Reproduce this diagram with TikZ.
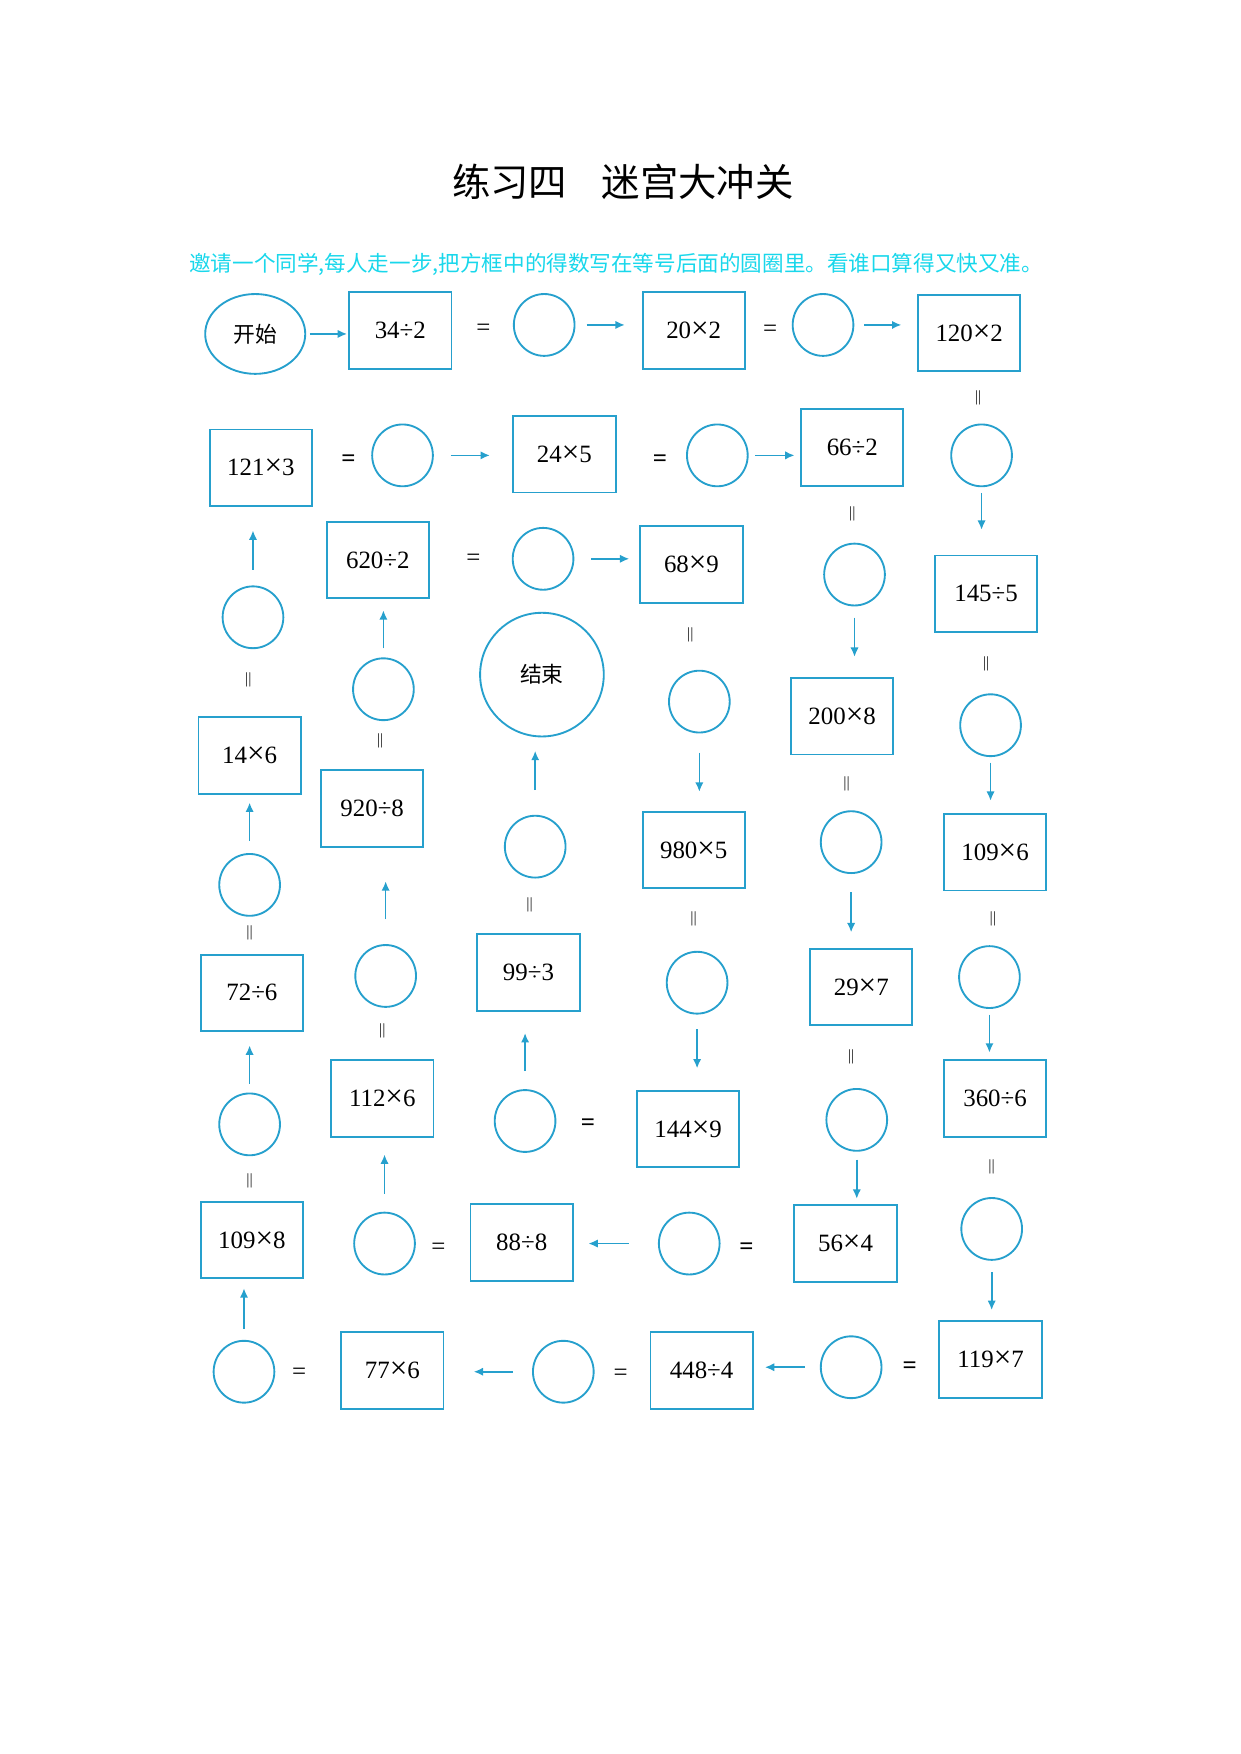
\documentclass[tikz,border=0pt]{standalone}
\usepackage{fontspec}
\setmainfont{Liberation Serif}
\newfontfamily\cjk{Noto Sans CJK SC}
\usetikzlibrary{arrows.meta,shapes.geometric}
\definecolor{mazeblue}{RGB}{38,160,205}
\definecolor{cyantext}{RGB}{25,215,235}
\def\myu{0.019039cm}
\newcommand\mymul{{\fontsize{15}{15}\selectfont ×}}
\tikzset{
  box/.style={draw=mazeblue, line width=0.9pt, rectangle, minimum width=91*\myu, minimum height=68*\myu, inner sep=0pt, font=\fontsize{12}{14}\selectfont},
  ring/.style={draw=mazeblue, line width=0.9pt, ellipse, minimum width=54*\myu, minimum height=55*\myu, inner sep=0pt},
  startnode/.style={draw=mazeblue, line width=0.9pt, ellipse, minimum width=89*\myu, minimum height=71*\myu, inner sep=0pt, font=\cjk\fontsize{10.5}{12}\selectfont},
  endnode/.style={draw=mazeblue, line width=0.9pt, circle, minimum size=110*\myu, inner sep=0pt, font=\cjk\fontsize{10.5}{12}\selectfont},
  eqthin/.style={inner sep=0pt, font=\fontsize{12}{14}\selectfont},
  eqbold/.style={inner sep=0pt, font=\bfseries\fontsize{12}{14}\selectfont},
  vq/.style={inner sep=0pt, font=\fontsize{7}{7}\selectfont},
  arr/.style={draw=mazeblue, line width=0.8pt, -{Latex[length=4.5pt,width=4pt]}},
  sh/.style 2 args={shorten <=#1*\myu, shorten >=#2*\myu}
}
\begin{document}
\begin{tikzpicture}[x=0.019039cm, y=-0.019039cm]
\useasboundingbox (0,0) rectangle (1103,1560);
% title and instruction
\node (title) at (554,162) {\cjk\fontsize{18.5}{20}\selectfont 练习四\hspace{0.9em}迷宫大冲关};
\node (instr) at (548,235) {\color{cyantext}\cjk\fontsize{10.4}{12}\selectfont 邀请一个同学,每人走一步,把方框中的得数写在等号后面的圆圈里。看谁口算得又快又准。};
% start / end
\node[startnode] (s) at (227,297) {开始};
\node[endnode] (e) at (482,600) {结束};
% boxes
\node[box] (b1) at (356,294) {34÷2};
\node[box] (b2) at (617,294) {20\mymul2};
\node[box] (b3) at (862,296) {120\mymul2};
\node[box] (b4) at (232,416) {121\mymul3};
\node[box] (b5) at (502,404) {24\mymul5};
\node[box] (b6) at (758,398) {66÷2};
\node[box] (b7) at (877,528) {145÷5};
\node[box] (b8) at (336,498) {620÷2};
\node[box] (b9) at (615,502) {68\mymul9};
\node[box] (b10) at (749,637) {200\mymul8};
\node[box] (b11) at (222,672) {14\mymul6};
\node[box] (b12) at (331,719) {920÷8};
\node[box] (b13) at (617,756) {980\mymul5};
\node[box] (b14) at (885,758) {109\mymul6};
\node[box] (b15) at (224,883) {72÷6};
\node[box] (b16) at (470,865) {99÷3};
\node[box] (b17) at (766,878) {29\mymul7};
\node[box] (b18) at (340,977) {112\mymul6};
\node[box] (b19) at (612,1004) {144\mymul9};
\node[box] (b20) at (885,977) {360÷6};
\node[box] (b21) at (224,1103) {109\mymul8};
\node[box] (b22) at (464,1105) {88÷8};
\node[box] (b23) at (752,1106) {56\mymul4};
\node[box] (b24) at (349,1219) {77\mymul6};
\node[box] (b25) at (624,1219) {448÷4};
\node[box] (b26) at (881,1209) {119\mymul7};
% circles
\node[ring] (c1) at (484,289) {};
\node[ring] (c2) at (732,289) {};
\node[ring] (c3) at (358,405) {};
\node[ring] (c4) at (638,405) {};
\node[ring] (c5) at (873,405) {};
\node[ring] (c6) at (483,497) {};
\node[ring] (c7) at (760,511) {};
\node[ring] (c8) at (225,549) {};
\node[ring] (c9) at (341,613) {};
\node[ring] (c10) at (622,624) {};
\node[ring] (c11) at (881,645) {};
\node[ring] (c12) at (757,749) {};
\node[ring] (c13) at (476,753) {};
\node[ring] (c14) at (222,787) {};
\node[ring] (c15) at (343,868) {};
\node[ring] (c16) at (620,874) {};
\node[ring] (c17) at (880,869) {};
\node[ring] (c18) at (467,997) {};
\node[ring] (c19) at (222,1000) {};
\node[ring] (c20) at (762,996) {};
\node[ring] (c21) at (882,1093) {};
\node[ring] (c22) at (342,1106) {};
\node[ring] (c23) at (613,1106) {};
\node[ring] (c24) at (757,1216) {};
\node[ring] (c25) at (501,1220) {};
\node[ring] (c26) at (217,1220) {};
% equal signs
\node[eqthin] (q1) at (430,293) {=};
\node[eqthin] (q2) at (685,294) {=};
\node[eqthin] (q3) at (421,498) {=};
\node[eqthin] (q4) at (266,1222) {=};
\node[eqthin] (q5) at (552,1223) {=};
\node[eqthin] (q6) at (390,1111) {=};
\node[eqbold] (q7) at (310,410) {=};
\node[eqbold] (q8) at (587,410) {=};
\node[eqbold] (q9) at (523,1000) {=};
\node[eqbold] (q10) at (664,1111) {=};
\node[eqbold] (q11) at (809,1216) {=};
% vertical equal signs
\node[vq] (v1) at (870,354) {$\Vert$};
\node[vq] (v2) at (758,457) {$\Vert$};
\node[vq] (v3) at (753,697) {$\Vert$};
\node[vq] (v4) at (757,940) {$\Vert$};
\node[vq] (v5) at (877,590) {$\Vert$};
\node[vq] (v6) at (883,817) {$\Vert$};
\node[vq] (v7) at (882,1038) {$\Vert$};
\node[vq] (v8) at (222,1050) {$\Vert$};
\node[vq] (v9) at (222,830) {$\Vert$};
\node[vq] (v10) at (221,605) {$\Vert$};
\node[vq] (v11) at (340,917) {$\Vert$};
\node[vq] (v12) at (338,659) {$\Vert$};
\node[vq] (v13) at (614,565) {$\Vert$};
\node[vq] (v14) at (617,817) {$\Vert$};
\node[vq] (v15) at (471,805) {$\Vert$};
% arrows right
\draw[arr, sh={3}{1}] (s.east) -- (s.east -| b1.west);
\draw[arr, sh={10}{15}] (c1.east) -- (c1.east -| b2.west);
\draw[arr, sh={9}{14}] (c2.east) -- (c2.east -| b3.west);
\draw[arr, sh={15}{20}] (c3.east) -- (c3.east -| b5.west);
\draw[arr, sh={6}{5}] (c4.east) -- (c4.east -| b6.west);
\draw[arr, sh={15}{9}] (c6.east) -- (c6.east -| b9.west);
% arrows left
\draw[arr, sh={26}{13}] (c23.west) -- (c23.west -| b22.east);
\draw[arr, sh={13}{10}] (c24.west) -- (c24.west -| b25.east);
\draw[arr, sh={17}{26}] (c25.west) -- (c25.west -| b24.east);
% arrows down
\draw[arr, sh={5}{22}] (c5.south) -- (c5.south |- b7.north);
\draw[arr, sh={10}{18}] (c7.south) -- (c7.south |- b10.north);
\draw[arr, sh={16}{14}] (c12.south) -- (c12.south |- b17.north);
\draw[arr, sh={7}{5}] (c20.south) -- (c20.south |- b23.north);
\draw[arr, sh={5}{11}] (c11.south) -- (c11.south |- b14.north);
\draw[arr, sh={5}{6}] (c17.south) -- (c17.south |- b20.north);
\draw[arr, sh={10}{9}] (c21.south) -- (c21.south |- b26.north);
\draw[arr, sh={17}{17}] (c10.south) -- (c10.south |- b13.north);
\draw[arr, sh={13}{19}] (c16.south) -- (c16.south |- b19.north);
% arrows up
\draw[arr, sh={10}{8}] (c26.north) -- (c26.north |- b21.south);
\draw[arr, sh={8}{12}] (c19.north) -- (c19.north |- b15.south);
\draw[arr, sh={11}{7}] (c14.north) -- (c14.north |- b11.south);
\draw[arr, sh={14}{21}] (c8.north) -- (c8.north |- b4.south);
\draw[arr, sh={16}{15}] (c22.north) -- (c22.north |- b18.south);
\draw[arr, sh={22}{30}] (c15.north) -- (c15.north |- b12.south);
\draw[arr, sh={8}{10}] (c9.north) -- (c9.north |- b8.south);
\draw[arr, sh={16}{19}] (c18.north) -- (c18.north |- b16.south);
\draw[arr, sh={22}{12}] (c13.north) -- (c13.north |- e.south);
\end{tikzpicture}
\end{document}
